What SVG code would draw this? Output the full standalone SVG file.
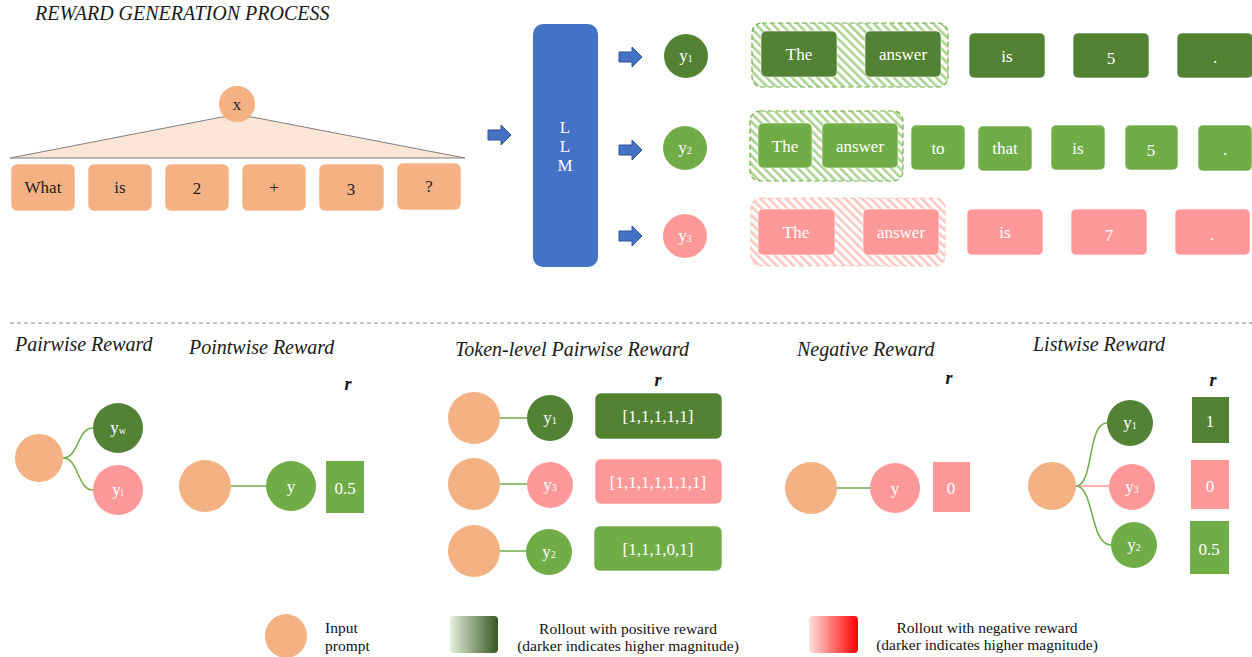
<svg xmlns="http://www.w3.org/2000/svg" width="1252" height="657" viewBox="0 0 1252 657">
<style>
text{font-family:"Liberation Serif","DejaVu Serif",serif;}
.title{font-style:italic;font-size:20px;fill:#1a1a1a;}
.tok{font-size:17px;fill:#fff;text-anchor:middle;dominant-baseline:central;}
.dtok{font-size:17px;fill:#222;text-anchor:middle;dominant-baseline:central;}
.or{fill:#f4b183;}
.dg{fill:#548235;}
.lg{fill:#70ad47;}
.pk{fill:#ff9999;}
.box{stroke:#ffffff;stroke-opacity:0.6;stroke-width:1;}
.r{font-style:italic;font-weight:bold;font-size:18px;fill:#111;text-anchor:middle;}
.edge{fill:none;stroke:#70ad47;stroke-width:1.5;}
.leg{font-family:"Liberation Serif",serif;font-size:15.5px;fill:#111;}
.arr{fill:#4472c4;stroke:#2f528f;stroke-width:1;}
</style>
<defs>
<pattern id="hg" width="6" height="6" patternUnits="userSpaceOnUse" patternTransform="rotate(-45)">
<rect width="6" height="6" fill="#ffffff"/>
<rect width="2.5" height="6" fill="#a9d18e"/>
</pattern>
<pattern id="hp" width="6" height="6" patternUnits="userSpaceOnUse" patternTransform="rotate(-45)">
<rect width="6" height="6" fill="#ffffff"/>
<rect width="2.5" height="6" fill="#f9c6bd"/>
</pattern>
<linearGradient id="gg" x1="0" y1="0" x2="1" y2="0">
<stop offset="0" stop-color="#e2f0d9"/>
<stop offset="1" stop-color="#385723"/>
</linearGradient>
<linearGradient id="gr" x1="0" y1="0" x2="1" y2="0">
<stop offset="0" stop-color="#fde0dc"/>
<stop offset="1" stop-color="#ff0000"/>
</linearGradient>
<path id="ba" d="M0,-5 H13 V-10 L23,0 L13,10 V5 H0 Z"/>
</defs>

<text class="title" x="35" y="20">REWARD GENERATION PROCESS</text>

<g id="prompt-tree">
<polygon points="222,117 10,158 465,158 252,117" fill="#fbe5d6" stroke="#7f7f7f" stroke-width="1"/>
<circle cx="237" cy="104" r="18" class="or"/>
<text class="dtok" x="237" y="104">x</text>
</g>
<g id="prompt-tokens">
<rect x="11" y="164" width="64" height="47" rx="6" class="or box"/><text class="dtok" x="43" y="187">What</text>
<rect x="88" y="164" width="64" height="47" rx="6" class="or box"/><text class="dtok" x="120" y="187">is</text>
<rect x="165" y="164" width="64" height="47" rx="6" class="or box"/><text class="dtok" x="197" y="188">2</text>
<rect x="242" y="164" width="64" height="47" rx="6" class="or box"/><text class="dtok" x="274" y="187">+</text>
<rect x="319" y="164" width="65" height="47" rx="6" class="or box"/><text class="dtok" x="351" y="189">3</text>
<rect x="397" y="163" width="64" height="47" rx="6" class="or box"/><text class="dtok" x="429" y="186">?</text>
</g>

<g id="connectors">
<use href="#ba" x="488" y="135" class="arr"/>
<use href="#ba" x="619" y="57" class="arr"/>
<use href="#ba" x="619" y="150" class="arr"/>
<use href="#ba" x="619" y="236" class="arr"/>
<path class="edge" d="M63,458 C79,458 77,428 93,428"/>
<path class="edge" d="M63,458 C79,458 77,490 93,490"/>
<path class="edge" d="M231,486 H266"/>
<path class="edge" d="M500,418 H527"/>
<path class="edge" d="M500,484 H527"/>
<path class="edge" d="M500,551 H526"/>
<path class="edge" d="M837,488 H870"/>
<path class="edge" d="M1076,486 C1094,486 1087,423 1107,423"/>
<path d="M1076,486 H1109" fill="none" stroke="#ff9999" stroke-width="1.5"/>
<path class="edge" d="M1076,486 C1094,486 1090,545 1111,545"/>
</g>

<g id="llm">
<rect x="533" y="24" width="65" height="243" rx="10" fill="#4472c4"/>
<text class="tok" x="565" y="127">L</text>
<text class="tok" x="565" y="146">L</text>
<text class="tok" x="565" y="165">M</text>
</g>

<g id="y1">
<circle cx="686" cy="56" r="22" class="dg"/>
<text class="tok" x="686" y="55">y<tspan font-size="10" dy="3">1</tspan></text>
</g>
<g id="y2">
<circle cx="685" cy="148" r="22" class="lg"/>
<text class="tok" x="685" y="147">y<tspan font-size="10" dy="3">2</tspan></text>
</g>
<g id="y3">
<circle cx="685" cy="236" r="22" class="pk"/>
<text class="tok" x="685" y="235">y<tspan font-size="10" dy="3">3</tspan></text>
</g>

<g id="rollout1">
<rect x="752" y="23" width="196" height="64" rx="10" fill="url(#hg)" stroke="#70ad47" stroke-width="1.2" stroke-dasharray="5,3"/>
<rect x="761" y="31" width="76" height="46" rx="5" class="dg box"/><text class="tok" x="799" y="54">The</text>
<rect x="865" y="31" width="76" height="46" rx="5" class="dg box"/><text class="tok" x="903" y="54">answer</text>
<rect x="969" y="33" width="76" height="45" rx="5" class="dg box"/><text class="tok" x="1007" y="56">is</text>
<rect x="1073" y="33" width="76" height="45" rx="5" class="dg box"/><text class="tok" x="1111" y="58">5</text>
<rect x="1177" y="33" width="76" height="45" rx="5" class="dg box"/><text class="tok" x="1215" y="57">.</text>
</g>

<g id="rollout2">
<rect x="750" y="111" width="153" height="70" rx="10" fill="url(#hg)" stroke="#70ad47" stroke-width="1.2" stroke-dasharray="5,3"/>
<rect x="758" y="123" width="54" height="45" rx="5" class="lg box"/><text class="tok" x="785" y="146">The</text>
<rect x="822" y="123" width="76" height="45" rx="5" class="lg box"/><text class="tok" x="860" y="146">answer</text>
<rect x="911" y="125" width="54" height="45" rx="5" class="lg box"/><text class="tok" x="938" y="148">to</text>
<rect x="978" y="126" width="54" height="45" rx="5" class="lg box"/><text class="tok" x="1005" y="148">that</text>
<rect x="1051" y="125" width="54" height="45" rx="5" class="lg box"/><text class="tok" x="1078" y="148">is</text>
<rect x="1125" y="125" width="53" height="45" rx="5" class="lg box"/><text class="tok" x="1151" y="150">5</text>
<rect x="1198" y="125" width="54" height="46" rx="5" class="lg box"/><text class="tok" x="1225" y="149">.</text>
</g>

<g id="rollout3">
<rect x="751" y="198" width="194" height="68" rx="10" fill="url(#hp)" stroke="#f9c6bd" stroke-width="1.2" stroke-dasharray="5,3"/>
<rect x="758" y="209" width="77" height="46" rx="5" class="pk box"/><text class="tok" x="796" y="232">The</text>
<rect x="863" y="209" width="76" height="46" rx="5" class="pk box"/><text class="tok" x="901" y="232">answer</text>
<rect x="967" y="209" width="76" height="46" rx="5" class="pk box"/><text class="tok" x="1005" y="232">is</text>
<rect x="1071" y="209" width="76" height="46" rx="5" class="pk box"/><text class="tok" x="1109" y="235">7</text>
<rect x="1175" y="209" width="75" height="46" rx="5" class="pk box"/><text class="tok" x="1212" y="234">.</text>
</g>

<line x1="10" y1="323" x2="1252" y2="323" stroke="#888" stroke-width="1" stroke-dasharray="4,3"/>

<text class="title" x="15" y="351">Pairwise Reward</text>
<text class="title" x="189" y="354">Pointwise Reward</text>
<text class="title" x="455" y="356">Token-level Pairwise Reward</text>
<text class="title" x="797" y="356">Negative Reward</text>
<text class="title" x="1033" y="351">Listwise Reward</text>

<text class="r" x="348" y="390">r</text>
<text class="r" x="658" y="386">r</text>
<text class="r" x="949" y="384">r</text>
<text class="r" x="1213" y="386">r</text>

<g id="pairwise">
<circle cx="39" cy="458" r="24" class="or"/>
<circle cx="118" cy="428" r="25" class="dg"/>
<text class="tok" x="118" y="427">y<tspan font-size="10" dy="3">w</tspan></text>
<circle cx="118" cy="490" r="25" class="pk"/>
<text class="tok" x="118" y="489">y<tspan font-size="10" dy="3">l</tspan></text>
</g>

<g id="pointwise">
<circle cx="205" cy="486" r="26" class="or"/>
<circle cx="291" cy="486" r="25" class="lg"/>
<text class="tok" x="291" y="486">y</text>
<rect x="326" y="461" width="38" height="52" class="lg"/>
<text class="tok" x="345" y="488">0.5</text>
</g>

<g id="token-level">
<circle cx="474" cy="418" r="26" class="or"/>
<circle cx="474" cy="484" r="26" class="or"/>
<circle cx="474" cy="551" r="26" class="or"/>
<circle cx="550" cy="418" r="23" class="dg"/>
<text class="tok" x="550" y="417">y<tspan font-size="10" dy="3">1</tspan></text>
<circle cx="550" cy="485" r="23" class="pk"/>
<text class="tok" x="550" y="484">y<tspan font-size="10" dy="3">3</tspan></text>
<circle cx="549" cy="552" r="23" class="lg"/>
<text class="tok" x="549" y="551">y<tspan font-size="10" dy="3">2</tspan></text>
<rect x="595" y="393" width="127" height="46" rx="6" class="dg box"/>
<text class="tok" x="658" y="416">[1,1,1,1,1]</text>
<rect x="595" y="459" width="127" height="45" rx="6" class="pk box"/>
<text class="tok" x="658" y="482">[1,1,1,1,1,1,1]</text>
<rect x="594" y="526" width="128" height="45" rx="6" class="lg box"/>
<text class="tok" x="658" y="549">[1,1,1,0,1]</text>
</g>

<g id="negative">
<circle cx="811" cy="488" r="26" class="or"/>
<circle cx="895" cy="488" r="25" class="pk"/>
<text class="tok" x="895" y="488">y</text>
<rect x="933" y="462" width="37" height="50" class="pk"/>
<text class="tok" x="951" y="488">0</text>
</g>

<g id="listwise">
<circle cx="1052" cy="486" r="24" class="or"/>
<circle cx="1130" cy="423" r="23" class="dg"/>
<text class="tok" x="1130" y="422">y<tspan font-size="10" dy="3">1</tspan></text>
<circle cx="1132" cy="487" r="23" class="pk"/>
<text class="tok" x="1132" y="486">y<tspan font-size="10" dy="3">3</tspan></text>
<circle cx="1134" cy="545" r="23" class="lg"/>
<text class="tok" x="1134" y="544">y<tspan font-size="10" dy="3">2</tspan></text>
<rect x="1192" y="397" width="37" height="46" class="dg"/>
<text class="tok" x="1210" y="421">1</text>
<rect x="1191" y="460" width="38" height="49" class="pk"/>
<text class="tok" x="1210" y="486">0</text>
<rect x="1190" y="521" width="39" height="53" class="lg"/>
<text class="tok" x="1209" y="549">0.5</text>
</g>

<g id="legend">
<ellipse cx="286" cy="636" rx="21" ry="22" class="or"/>
<text class="leg" x="325" y="633">Input</text>
<text class="leg" x="325" y="651">prompt</text>
<rect x="450" y="616" width="48" height="37" rx="4" fill="url(#gg)"/>
<text class="leg" x="628" y="634" text-anchor="middle">Rollout with positive reward</text>
<text class="leg" x="628" y="651" text-anchor="middle">(darker indicates higher magnitude)</text>
<rect x="809" y="616" width="49" height="37" rx="4" fill="url(#gr)"/>
<text class="leg" x="987" y="633" text-anchor="middle">Rollout with negative reward</text>
<text class="leg" x="987" y="650" text-anchor="middle">(darker indicates higher magnitude)</text>
</g>
</svg>
